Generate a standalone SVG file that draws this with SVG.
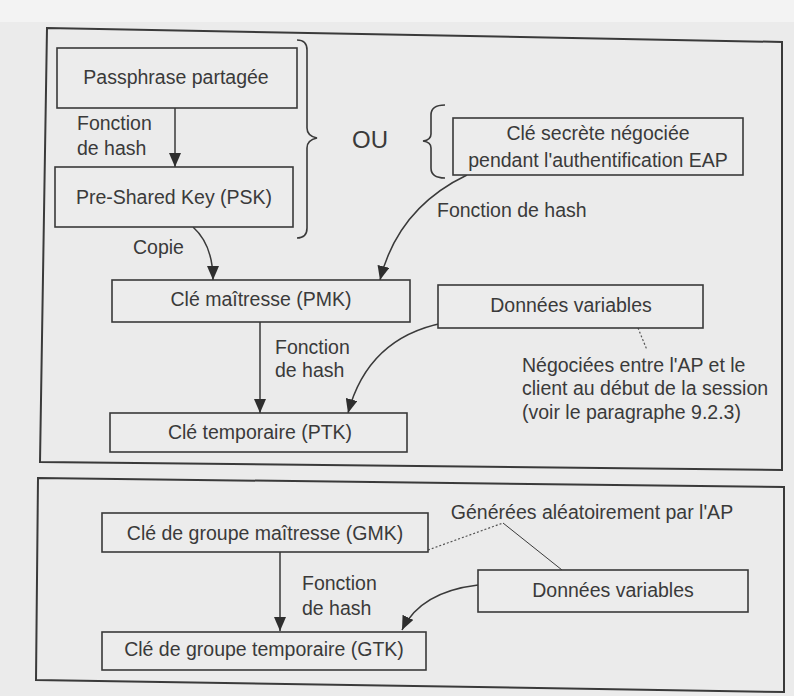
<svg xmlns="http://www.w3.org/2000/svg" width="794" height="696" viewBox="0 0 794 696">
<style>
  .bg{fill:#ebebeb}
  .panel{fill:none;stroke:#3a3a3a;stroke-width:2}
  .box{fill:#ececec;stroke:#3a3a3a;stroke-width:1.6}
  text{font-family:"Liberation Sans",Arial,sans-serif;font-size:19.5px;fill:#3a3a3a}
  .c{text-anchor:middle}
  .ou{font-size:24px}
  .edge{fill:none;stroke:#3a3a3a;stroke-width:1.5}
  .dot{fill:none;stroke:#555;stroke-width:1.2;stroke-dasharray:2 2}
  .brace{fill:none;stroke:#3a3a3a;stroke-width:1.6}
</style>
<defs>
  <marker id="ah" markerUnits="userSpaceOnUse" markerWidth="14" markerHeight="12" refX="14" refY="6" orient="auto">
    <path d="M0,0 L14,6 L0,12 Z" fill="#2e2e2e"/>
  </marker>
</defs>
<rect class="bg" x="0" y="0" width="794" height="696"/>
<rect x="0" y="0" width="794" height="22" fill="#f3f3f3"/>
<g id="panels">
  <polygon class="panel" points="47,28 782,42 782,470 40,462"/>
  <polygon class="panel" points="38,478 784,487 784,692 36,680"/>
</g>
<g id="connectors">
  <line class="edge" x1="175" y1="108" x2="175" y2="167" marker-end="url(#ah)"/>
  <path class="edge" d="M193,227 Q213,245 213,280" marker-end="url(#ah)"/>
  <path class="edge" d="M467,175 Q398,208 380,280" marker-end="url(#ah)"/>
  <line class="edge" x1="260" y1="322" x2="260" y2="413" marker-end="url(#ah)"/>
  <path class="edge" d="M443,323 Q368,338 348,413" marker-end="url(#ah)"/>
  <line class="edge" x1="280" y1="552" x2="280" y2="631" marker-end="url(#ah)"/>
  <path class="edge" d="M478,585 Q420,592 402,630" marker-end="url(#ah)"/>
  <path class="dot" d="M638,328 L647,350"/>
  <path class="dot" d="M428,550 L503,523"/>
  <path class="edge" style="stroke-width:1" d="M503,523 L562,570"/>
  <path class="brace" d="M297,40 Q307,40 307,50 L307,128 Q307,136 317,138 Q307,140 307,148 L307,228 Q307,238 297,238"/>
  <path class="brace" d="M445,105 Q431,105 431,115 L431,134 Q431,140 423,141 Q431,142 431,148 L431,168 Q431,178 445,178"/>
</g>
<g id="passphrase">
  <rect class="box" x="57" y="48" width="240" height="60"/>
  <text class="c" x="176" y="84">Passphrase partagée</text>
</g>
<g id="label-hash1">
  <text x="77" y="130">Fonction</text>
  <text x="77" y="155">de hash</text>
</g>
<g id="psk">
  <rect class="box" x="55" y="167" width="238" height="60"/>
  <text class="c" x="174" y="204">Pre-Shared Key (PSK)</text>
</g>
<g id="ou">
  <text class="ou" x="352" y="148">OU</text>
</g>
<g id="eap">
  <rect class="box" x="453" y="118" width="290" height="57"/>
  <text class="c" x="598" y="140">Clé secrète négociée</text>
  <text class="c" x="598" y="167">pendant l'authentification EAP</text>
</g>
<g id="label-hash2">
  <text x="437" y="217">Fonction de hash</text>
</g>
<g id="label-copie">
  <text x="133" y="254">Copie</text>
</g>
<g id="pmk">
  <rect class="box" x="112" y="280" width="298" height="42"/>
  <text class="c" x="261" y="306">Clé maîtresse (PMK)</text>
</g>
<g id="label-hash3">
  <text x="275" y="354">Fonction</text>
  <text x="275" y="377">de hash</text>
</g>
<g id="donnees1">
  <rect class="box" x="438" y="285" width="265" height="43"/>
  <text class="c" x="571" y="312">Données variables</text>
</g>
<g id="note1">
  <text x="522" y="372">Négociées entre l'AP et le</text>
  <text x="522" y="395">client au début de la session</text>
  <text x="522" y="419">(voir le paragraphe 9.2.3)</text>
</g>
<g id="ptk">
  <rect class="box" x="110" y="413" width="297" height="39"/>
  <text class="c" x="260" y="439">Clé temporaire (PTK)</text>
</g>
<g id="gmk">
  <rect class="box" x="102" y="513" width="326" height="39"/>
  <text class="c" x="265" y="540">Clé de groupe maîtresse (GMK)</text>
</g>
<g id="note2">
  <text class="c" x="592" y="519">Générées aléatoirement par l'AP</text>
</g>
<g id="label-hash4">
  <text x="302" y="590">Fonction</text>
  <text x="302" y="615">de hash</text>
</g>
<g id="donnees2">
  <rect class="box" x="478" y="570" width="270" height="42"/>
  <text class="c" x="613" y="597">Données variables</text>
</g>
<g id="gtk">
  <rect class="box" x="102" y="632" width="324" height="38"/>
  <text class="c" x="264" y="656">Clé de groupe temporaire (GTK)</text>
</g>
</svg>
